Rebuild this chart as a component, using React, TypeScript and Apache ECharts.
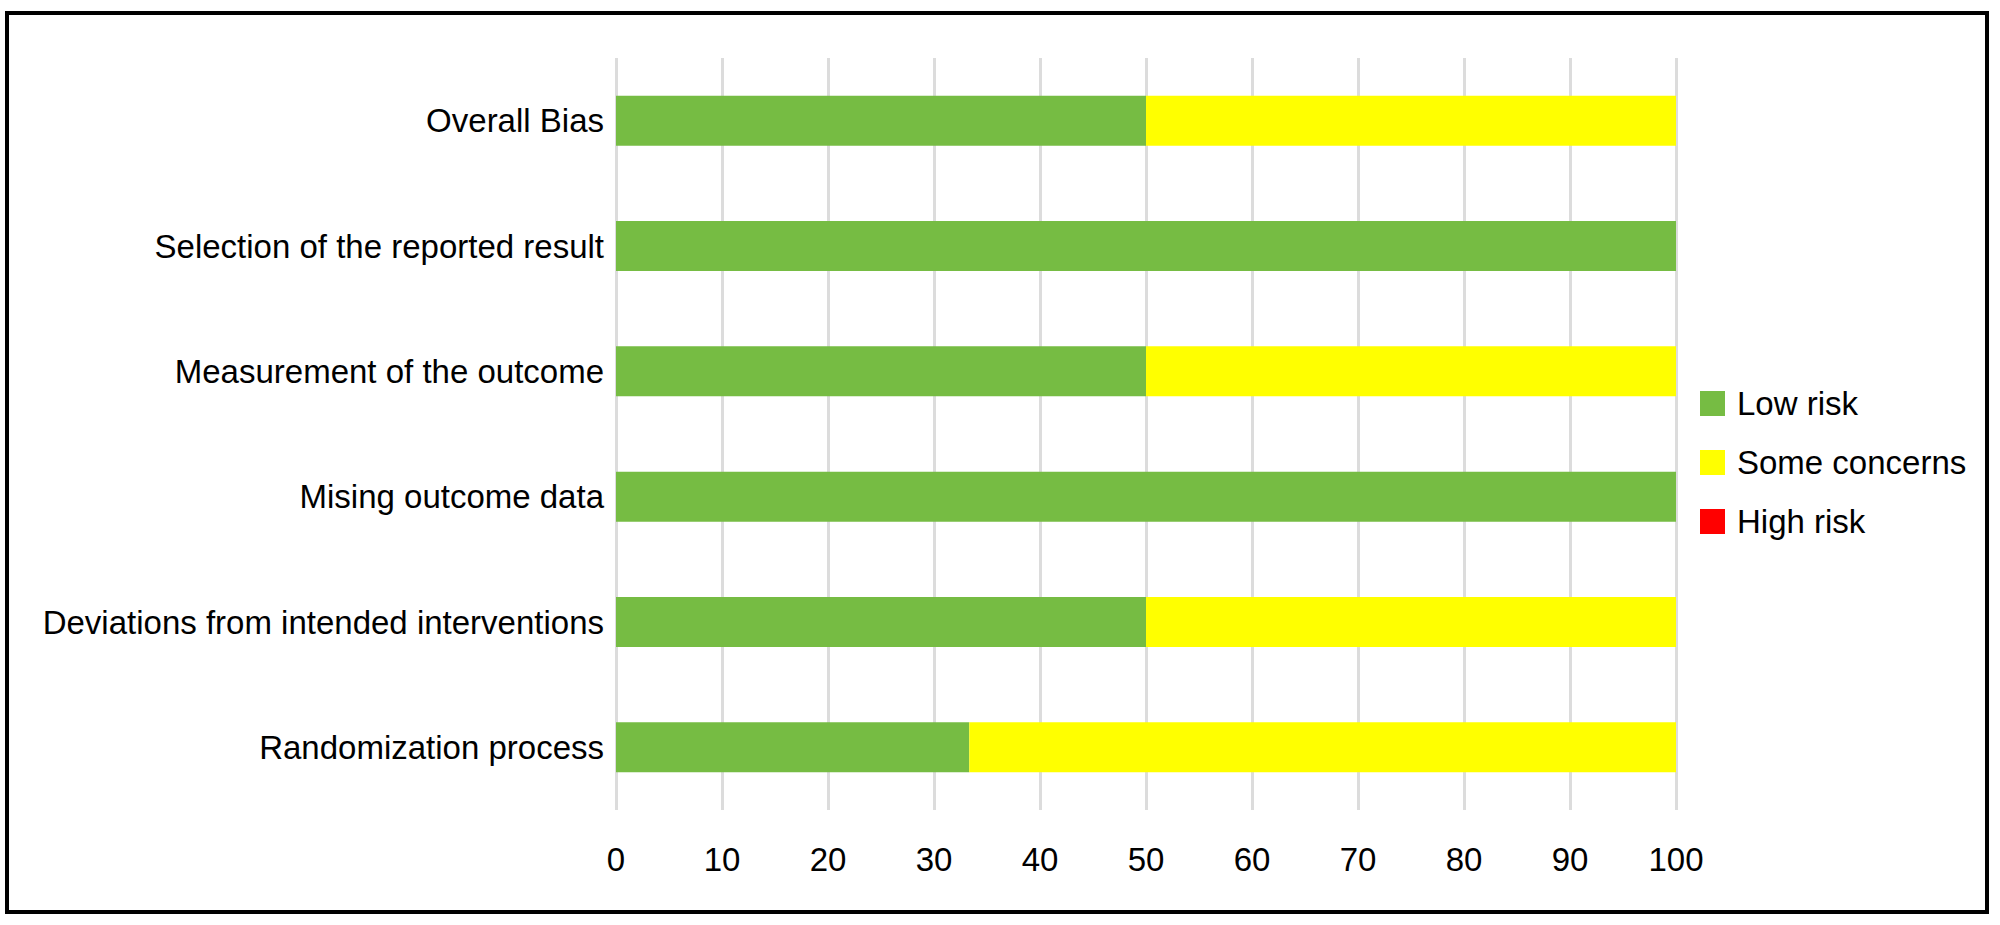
import React, { useEffect, useRef } from "react";
import * as echarts from "echarts";

const categories = [
  "Overall Bias",
  "Selection of the reported result",
  "Measurement of the outcome",
  "Mising outcome data",
  "Deviations from intended interventions",
  "Randomization process",
];
const lowRisk = [50, 100, 50, 100, 50, 33.33];
const someConcerns = [50, 0, 50, 0, 50, 66.67];
const highRisk = [0, 0, 0, 0, 0, 0];
const seriesNames = ["Low risk", "Some concerns", "High risk"];
const xTicks = { min: 0, max: 100, interval: 10 };

const FONT = "'Liberation Sans', Arial, Helvetica, sans-serif";

export default function App() {
  const ref = useRef<HTMLDivElement>(null);
  useEffect(() => {
    if (!ref.current) return;
    const chart = echarts.init(ref.current, undefined, { renderer: "svg" });
    chart.setOption({
      animation: false,
      backgroundColor: "#ffffff",
      textStyle: { fontFamily: FONT },
      grid: { left: 616, right: 324, top: 58, bottom: 115, containLabel: false },
      legend: {
        orient: "vertical",
        left: 1700,
        top: 387,
        padding: 0,
        itemWidth: 25,
        itemHeight: 25,
        itemGap: 26,
        icon: "rect",
        data: seriesNames,
        textStyle: {
          fontSize: 33,
          color: "#000",
          fontFamily: FONT,
          lineHeight: 33,
          padding: [0, 0, 0, 7],
        },
      },
      xAxis: {
        type: "value",
        min: xTicks.min,
        max: xTicks.max,
        interval: xTicks.interval,
        axisLine: { show: false },
        axisTick: { show: false },
        splitLine: { show: true, lineStyle: { color: "#dcdcdc", width: 3 } },
        axisLabel: { fontSize: 33, color: "#000", margin: 33, fontFamily: FONT },
      },
      yAxis: {
        type: "category",
        data: categories,
        inverse: true,
        axisLine: { show: false },
        axisTick: { show: false },
        splitLine: { show: false },
        axisLabel: { fontSize: 33, color: "#000", margin: 12, fontFamily: FONT },
      },
      series: [
        {
          name: seriesNames[0],
          type: "bar",
          stack: "total",
          barWidth: 50,
          data: lowRisk,
          itemStyle: { color: "#76BC43" },
        },
        {
          name: seriesNames[1],
          type: "bar",
          stack: "total",
          barWidth: 50,
          data: someConcerns,
          itemStyle: { color: "#FFFF00" },
        },
        {
          name: seriesNames[2],
          type: "bar",
          stack: "total",
          barWidth: 50,
          data: highRisk,
          itemStyle: { color: "#FF0000" },
        },
      ],
      graphic: [
        {
          type: "rect",
          shape: { x: 7, y: 13, width: 1980, height: 899 },
          style: { fill: "none", stroke: "#000", lineWidth: 4 },
          z: 100,
        },
      ],
    });
    return () => chart.dispose();
  }, []);
  return (
    <div
      ref={ref}
      style={{ position: "fixed", left: 0, top: 0, width: 2000, height: 925 }}
    />
  );
}
